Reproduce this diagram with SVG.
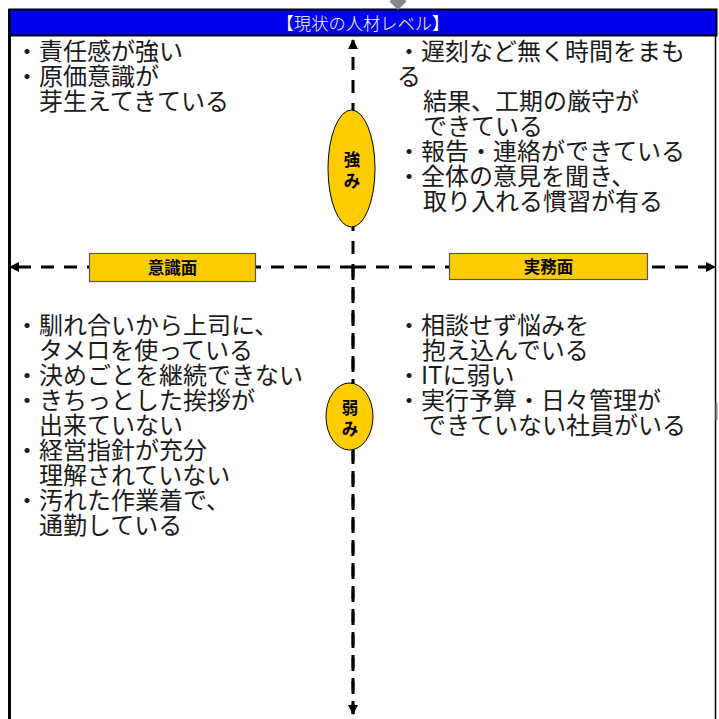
<svg xmlns="http://www.w3.org/2000/svg" width="719" height="719" viewBox="0 0 719 719">
<style>
.t{font-family:"Noto Sans CJK JP","Liberation Sans",sans-serif;font-size:24px;fill:#1a1a1a;font-weight:400}
.lb{font-family:"Noto Sans CJK JP","Liberation Sans",sans-serif;font-size:16.5px;font-weight:bold;fill:#000;text-anchor:middle}
.ax{stroke:#000;stroke-width:3;stroke-dasharray:13 10;fill:none}
.box{fill:#FFCC00;stroke:#555;stroke-width:1.2}
</style>
<defs>
<marker id="ah" viewBox="0 0 10 10" refX="9" refY="5" markerWidth="3.4" markerHeight="3.4" orient="auto" markerUnits="strokeWidth">
<path d="M0,0 L10,5 L0,10 z" fill="#000"/>
</marker>
</defs>
<rect width="719" height="719" fill="#fff"/>
<g id="frame">
<line x1="9.5" y1="9" x2="9.5" y2="719" stroke="#000" stroke-width="3"/>
<line x1="715.5" y1="9" x2="715.5" y2="719" stroke="#000" stroke-width="1.5"/>
<rect x="9.5" y="9.5" width="707" height="26" fill="#0000EE" stroke="#000" stroke-width="2"/>
<text x="363" y="30" font-family="'Noto Sans CJK JP','Liberation Sans',sans-serif" font-size="17.3" font-weight="300" fill="#fff" text-anchor="middle">【現状の人材レベル】</text>
<polygon points="398,-7 406.5,1.5 398,10 389.5,1.5" fill="#888"/>
<rect x="715.5" y="403" width="2" height="17" fill="#888"/>
</g>
<g id="connectors">
<line class="ax" x1="353" y1="714" x2="353" y2="40" marker-end="url(#ah)"/>
<line class="ax" x1="353" y1="267" x2="353" y2="714" marker-end="url(#ah)"/>
<line class="ax" x1="353" y1="267" x2="10" y2="267" marker-end="url(#ah)"/>
<line class="ax" x1="353" y1="267" x2="715" y2="267" marker-end="url(#ah)"/>
</g>
<g id="label-ishiki">
<rect class="box" x="89.5" y="253.5" width="166" height="28"/>
<text class="lb" x="172.5" y="274">意識面</text>
</g>
<g id="label-jitsumu">
<rect class="box" x="449.5" y="253.5" width="198" height="26"/>
<text class="lb" x="548.5" y="273">実務面</text>
</g>
<g id="node-tsuyomi">
<ellipse cx="351.5" cy="168.5" rx="23.5" ry="58.5" fill="#FFCC00" stroke="#000" stroke-width="1"/>
<text class="lb" x="352" y="166">強<tspan x="352" y="187">み</tspan></text>
</g>
<g id="node-yowami">
<ellipse cx="349.5" cy="416.5" rx="23.5" ry="33.5" fill="#FFCC00" stroke="#000" stroke-width="1"/>
<text class="lb" x="350" y="414">弱<tspan x="350" y="435">み</tspan></text>
</g>
<g id="text-top-left">
<text class="t" x="15" y="60">・責任感が強い<tspan x="15" y="85">・原価意識が</tspan><tspan x="39" y="110">芽生えてきている</tspan></text>
</g>
<g id="text-top-right">
<text class="t" x="397" y="60">・遅刻など無く時間をまも<tspan x="397" y="85">る</tspan><tspan x="423" y="110">結果、工期の厳守が</tspan><tspan x="423" y="135">できている</tspan><tspan x="397" y="160">・報告・連絡ができている</tspan><tspan x="397" y="185">・全体の意見を聞き、</tspan><tspan x="423" y="210">取り入れる慣習が有る</tspan></text>
</g>
<g id="text-bottom-left">
<text class="t" x="15" y="334">・馴れ合いから上司に、<tspan x="39" y="359">タメロを使っている</tspan><tspan x="15" y="384">・決めごとを継続できない</tspan><tspan x="15" y="409">・きちっとした挨拶が</tspan><tspan x="39" y="434">出来ていない</tspan><tspan x="15" y="459">・経営指針が充分</tspan><tspan x="39" y="484">理解されていない</tspan><tspan x="15" y="509">・汚れた作業着で、</tspan><tspan x="39" y="534">通勤している</tspan></text>
</g>
<g id="text-bottom-right">
<text class="t" x="397" y="334">・相談せず悩みを<tspan x="422" y="359">抱え込んでいる</tspan><tspan x="397" y="384">・ITに弱い</tspan><tspan x="397" y="409">・実行予算・日々管理が</tspan><tspan x="422" y="434">できていない社員がいる</tspan></text>
</g>
</svg>
